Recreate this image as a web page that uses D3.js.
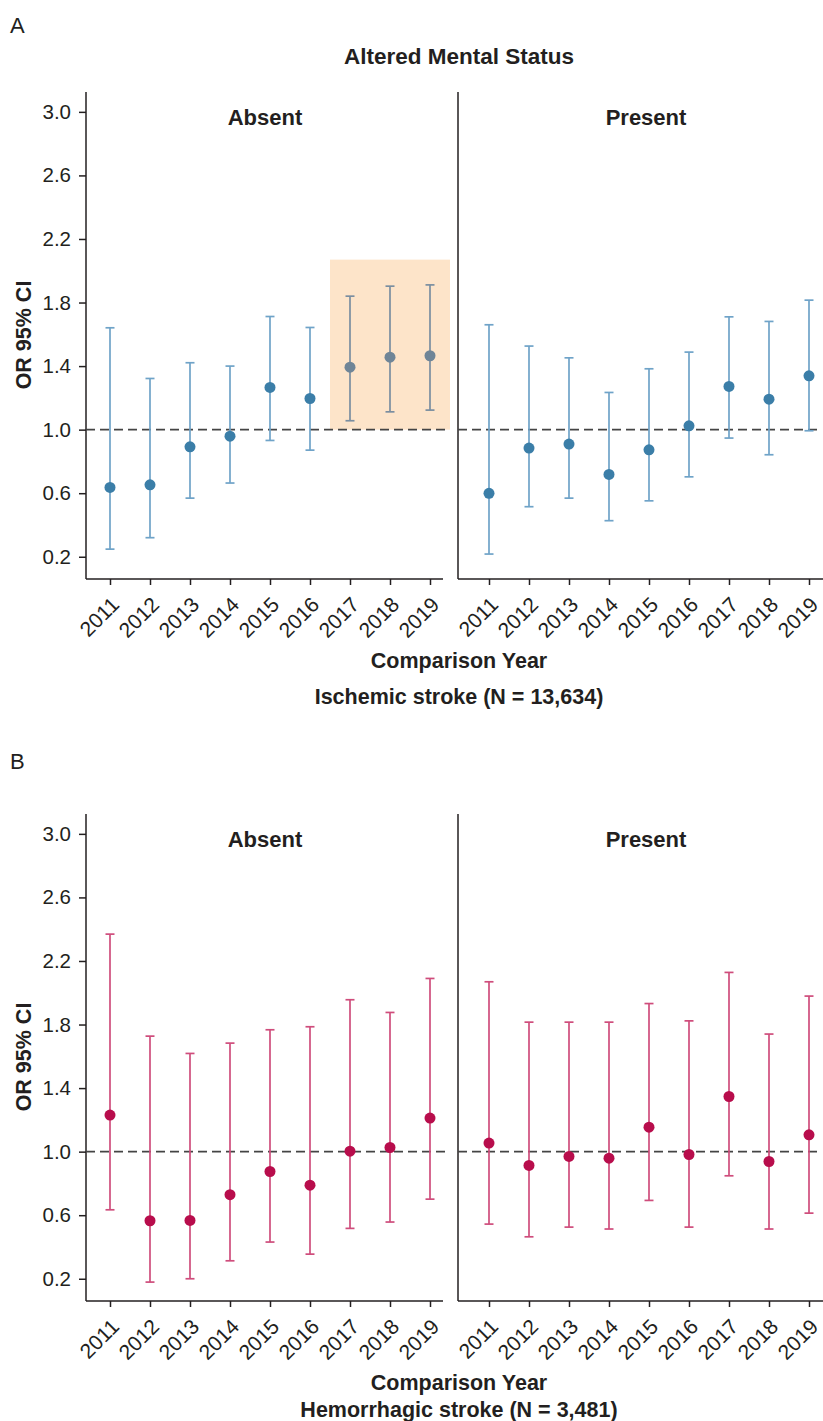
<!DOCTYPE html>
<html>
<head>
<meta charset="utf-8">
<script src="https://cdn.jsdelivr.net/npm/d3@7"></script>
<style>
	body { margin: 0; background: #fff; }
	svg text { font-family: 'Liberation Sans', Arial, sans-serif; fill: #231f20; }
</style>
</head>
<body>
<svg id="chart"></svg>
<script>

var w = 823;
var h = 1421;

// comparison years
var years = [2011, 2012, 2013, 2014, 2015, 2016, 2017, 2018, 2019];
var yTicks = [0.2, 0.6, 1.0, 1.4, 1.8, 2.2, 2.6, 3.0];

// A - ischemic stroke, altered mental status absent / present
var ischAbsentOR = [0.636, 0.653, 0.892, 0.959, 1.266, 1.196, 1.393, 1.456, 1.465];
var ischAbsentLo = [0.248, 0.320, 0.569, 0.664, 0.932, 0.871, 1.056, 1.112, 1.123];
var ischAbsentHi = [1.641, 1.322, 1.421, 1.400, 1.712, 1.643, 1.840, 1.903, 1.911];

var ischPresentOR = [0.599, 0.884, 0.909, 0.718, 0.873, 1.024, 1.272, 1.192, 1.339];
var ischPresentLo = [0.217, 0.515, 0.569, 0.427, 0.552, 0.703, 0.947, 0.842, 0.993];
var ischPresentHi = [1.660, 1.526, 1.452, 1.234, 1.383, 1.488, 1.710, 1.681, 1.815];

// B - hemorrhagic stroke
var hemAbsentOR = [1.230, 0.565, 0.567, 0.729, 0.875, 0.789, 1.003, 1.026, 1.211];
var hemAbsentLo = [0.634, 0.179, 0.200, 0.313, 0.431, 0.355, 0.517, 0.557, 0.701];
var hemAbsentHi = [2.369, 1.727, 1.618, 1.683, 1.767, 1.786, 1.956, 1.876, 2.090];

var hemPresentOR = [1.054, 0.913, 0.970, 0.959, 1.154, 0.982, 1.347, 0.938, 1.106];
var hemPresentLo = [0.544, 0.464, 0.525, 0.513, 0.693, 0.525, 0.848, 0.513, 0.613];
var hemPresentHi = [2.069, 1.815, 1.815, 1.815, 1.932, 1.823, 2.128, 1.740, 1.979];

// shaded years in A / absent
var shadeYears = [2017, 2018, 2019];
var shadeTop = 2.07;

var svg = d3.select('#chart')
	.attr('width', w)
	.attr('height', h);

function rows(or, lo, hi) {
	return years.map(function(y, i) {
		return { year: y, or: or[i], lo: lo[i], hi: hi[i] };
	});
}

function draw_facet(parent, yScale, xr, frame, data, col, opts) {

	var g = parent.append('g');
	var x = d3.scalePoint().domain(years).range(xr);
	var top = yScale.range()[1], bottom = yScale.range()[0];

	if (opts.shade) {
		g.append('rect')
			.attr('x', x(shadeYears[0]) - 20)
			.attr('width', x(shadeYears[shadeYears.length - 1]) - x(shadeYears[0]) + 40)
			.attr('y', yScale(shadeTop))
			.attr('height', yScale(1) - yScale(shadeTop))
			.attr('fill', '#fde4c9');
	}

	// frame: left + bottom lines
	g.append('line')
		.attr('x1', frame[0]).attr('x2', frame[0])
		.attr('y1', top).attr('y2', bottom)
		.style('stroke', '#231f20').style('stroke-width', '1.5px');
	g.append('line')
		.attr('x1', frame[0]).attr('x2', frame[1])
		.attr('y1', bottom).attr('y2', bottom)
		.style('stroke', '#231f20').style('stroke-width', '1.5px');

	g.append('line')
		.attr('x1', frame[0]).attr('x2', opts.dashEnd)
		.attr('y1', yScale(1)).attr('y2', yScale(1))
		.style('stroke', '#444')
		.style('stroke-width', '1.6px')
		.style('stroke-dasharray', '9,5');

	var xAxis = g.append('g')
		.attr('transform', 'translate(0,' + bottom + ')')
		.call(d3.axisBottom(x).tickSize(6).tickSizeOuter(0));
	xAxis.select('.domain').remove();
	xAxis.selectAll('line').style('stroke', '#231f20').style('stroke-width', '1.5px');
	xAxis.selectAll('text')
		.attr('y', 0).attr('dy', 0)
		.attr('transform', 'translate(10,27) rotate(-45)')
		.style('text-anchor', 'end')
		.style('font-size', '21px');

	if (opts.yLabels) {
		var yAxis = g.append('g')
			.attr('transform', 'translate(' + frame[0] + ',0)')
			.call(d3.axisLeft(yScale).tickValues(yTicks).tickFormat(d3.format('.1f')).tickSize(7).tickPadding(8));
		yAxis.select('.domain').remove();
		yAxis.selectAll('line').style('stroke', '#231f20').style('stroke-width', '1.5px');
		yAxis.selectAll('text').style('font-size', '20.5px');
	}

	var bars = g.selectAll('.ci')
		.data(data)
		.enter()
		.append('g')
		.attr('class', 'ci');

	function c(d, k) {
		if (opts.shade && shadeYears.includes(d.year)) return col.shade[k];
		return col[k];
	}

	bars.append('line')
		.attr('x1', d => x(d.year)).attr('x2', d => x(d.year))
		.attr('y1', d => yScale(d.lo)).attr('y2', d => yScale(d.hi))
		.style('stroke', d => c(d, 'line')).style('stroke-width', '1.7px');
	bars.append('line')
		.attr('x1', d => x(d.year) - 4.5).attr('x2', d => x(d.year) + 4.5)
		.attr('y1', d => yScale(d.hi)).attr('y2', d => yScale(d.hi))
		.style('stroke', d => c(d, 'line')).style('stroke-width', '1.7px');
	bars.append('line')
		.attr('x1', d => x(d.year) - 4.5).attr('x2', d => x(d.year) + 4.5)
		.attr('y1', d => yScale(d.lo)).attr('y2', d => yScale(d.lo))
		.style('stroke', d => c(d, 'line')).style('stroke-width', '1.7px');
	bars.append('circle')
		.attr('cx', d => x(d.year))
		.attr('cy', d => yScale(d.or))
		.attr('r', 5.5)
		.attr('fill', d => c(d, 'dot'));

	g.append('text')
		.attr('x', opts.titleX)
		.attr('y', top + 33)
		.attr('text-anchor', 'middle')
		.style('font-size', '22px')
		.style('font-weight', 'bold')
		.text(opts.title);
}

function draw_block(off, col, sets, letter, letterY, captions, shade) {

	var g = svg.append('g').attr('transform', 'translate(0,' + off + ')');

	var y = d3.scaleLinear().domain([0.06, 3.125]).range([579, 92]);

	draw_facet(g, y, [110, 430], [86, 443], sets[0], col,
		{ yLabels: true, shade: shade, title: 'Absent', titleX: 265, dashEnd: 445 });
	draw_facet(g, y, [489, 809], [458, 823], sets[1], col,
		{ yLabels: false, shade: false, title: 'Present', titleX: 646, dashEnd: 817 });

	svg.append('text')
		.attr('x', 10).attr('y', letterY)
		.style('font-size', '22px')
		.text(letter);

	g.append('text')
		.attr('transform', 'translate(31,335) rotate(-90)')
		.attr('text-anchor', 'middle')
		.style('font-size', '21.5px')
		.style('font-weight', 'bold')
		.text('OR 95% CI');

	captions.forEach(function(cp) {
		svg.append('text')
			.attr('x', 459).attr('y', cp.y)
			.attr('text-anchor', 'middle')
			.style('font-size', cp.s || '21.5px')
			.style('font-weight', 'bold')
			.text(cp.t);
	});
}

var blue = { dot: '#3b7ea8', line: '#6fa3c8', shade: { dot: '#6f8597', line: '#7a8ea0' } };
var red = { dot: '#b80d4c', line: '#cf4d7c' };

draw_block(0, blue,
	[rows(ischAbsentOR, ischAbsentLo, ischAbsentHi), rows(ischPresentOR, ischPresentLo, ischPresentHi)],
	'A', 33,
	[{ t: 'Altered Mental Status', y: 64, s: '22.5px' }, { t: 'Comparison Year', y: 668 }, { t: 'Ischemic stroke (N = 13,634)', y: 704 }],
	true);

draw_block(722, red,
	[rows(hemAbsentOR, hemAbsentLo, hemAbsentHi), rows(hemPresentOR, hemPresentLo, hemPresentHi)],
	'B', 769,
	[{ t: 'Comparison Year', y: 1390 }, { t: 'Hemorrhagic stroke (N = 3,481)', y: 1417 }],
	false);

</script>
</body>
</html>
